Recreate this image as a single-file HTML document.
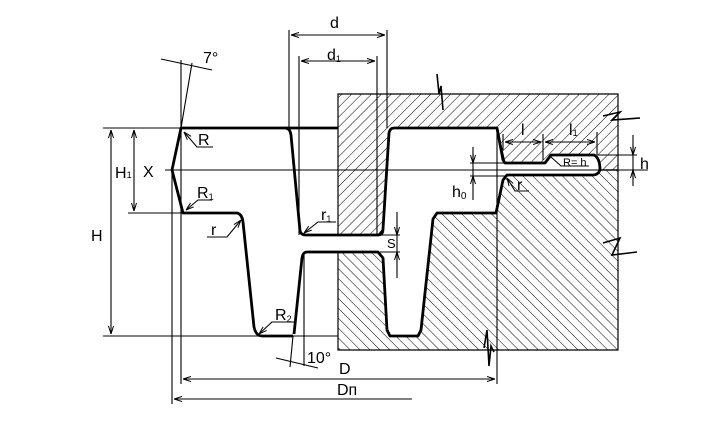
<!DOCTYPE html>
<html><head><style>html,body{margin:0;padding:0;background:#fff}svg{display:block}text{font-family:"Liberation Sans",sans-serif;fill:#000}</style></head>
<body>
<svg width="720" height="424" viewBox="0 0 720 424" xmlns="http://www.w3.org/2000/svg">
<defs>
<pattern id="hu" patternUnits="userSpaceOnUse" width="7" height="7" patternTransform="rotate(45)"><line x1="0" y1="0" x2="0" y2="7" stroke="#000" stroke-width="1"/></pattern>
<pattern id="hl" patternUnits="userSpaceOnUse" width="7" height="7" patternTransform="rotate(-45)"><line x1="0" y1="0" x2="0" y2="7" stroke="#000" stroke-width="1"/></pattern>
<marker id="a" markerWidth="8" markerHeight="6" refX="8" refY="3" orient="auto-start-reverse" markerUnits="userSpaceOnUse"><path d="M0,0.5 L8,3 L0,5.5" fill="none" stroke="#000" stroke-width="1"/></marker>
</defs>
<path d="M338,94 L618,94 L618,170 L600,170 Q600,160 595,155 L550,155 L545,163 L505,163 L497,128 L392,128 L389,133 L383,229 L378,235 L338,235 Z" fill="url(#hu)" stroke="#000" stroke-width="1.2"/>
<path d="M338,252 L378,252 L383,258 L387,330 L390,336 L418,336 L421,330 L433,219 L437,213 L496,213 L503,180 L507,175 L593,175 Q598,175 600,170 L618,170 L618,350 L338,350 Z" fill="url(#hl)" stroke="#000" stroke-width="1.2"/>
<g fill="none" stroke="#000" stroke-width="2.8" stroke-linejoin="round">
<path d="M338,128 L181,128 L172,170 L183,213 L237,213 Q242,214 243,222 L254,327 Q256,336 262,336 L293,336"/>
<path d="M285,128 Q290,128 291,135 L300,231 Q301,235 306,235 L378,235 Q383,235 383,229 L389,133 Q390,128 394,128 L497,128 L503,160 L505,163 L545,163 L551,155 L594,155 Q600,158 600,170 Q598,175 593,175 L507,175 L503,180 L496,213 L437,213 L433,219 L421,330 L418,336 L390,336 L387,330 L383,258 L378,252 L307,252 Q303,252 302,258 L294,334"/>
</g>
<g fill="none" stroke="#000" stroke-width="1.1">
<line x1="165" y1="170" x2="648" y2="170"/>
<line x1="103" y1="128" x2="181" y2="128"/>
<line x1="103" y1="336" x2="258" y2="336"/>
<line x1="293" y1="336" x2="338" y2="336"/>
<line x1="128" y1="213" x2="183" y2="213"/>
<line x1="111" y1="130" x2="111" y2="334" marker-start="url(#a)" marker-end="url(#a)"/>
<line x1="134" y1="130" x2="134" y2="211" marker-start="url(#a)" marker-end="url(#a)"/>
<line x1="172" y1="170" x2="172" y2="404"/>
<line x1="181" y1="60" x2="181" y2="384"/>
<line x1="181" y1="128" x2="192" y2="63"/>
<line x1="161" y1="59" x2="212" y2="70"/>
<line x1="289" y1="30" x2="289" y2="128"/>
<line x1="387" y1="30" x2="387" y2="128"/>
<line x1="291" y1="35" x2="385" y2="35" marker-start="url(#a)" marker-end="url(#a)"/>
<line x1="299" y1="56" x2="299" y2="235"/>
<line x1="377" y1="56" x2="377" y2="235"/>
<line x1="301" y1="61" x2="375" y2="61" marker-start="url(#a)" marker-end="url(#a)"/>
<line x1="497" y1="128" x2="497" y2="384"/>
<line x1="183" y1="379" x2="495" y2="379" marker-start="url(#a)" marker-end="url(#a)"/>
<line x1="174" y1="399" x2="412" y2="399" marker-start="url(#a)"/>
<line x1="304" y1="252" x2="304" y2="366"/>
<line x1="293" y1="336" x2="290" y2="367"/>
<line x1="276" y1="358" x2="318" y2="368"/>
<line x1="380" y1="235" x2="400" y2="235"/><line x1="380" y1="252" x2="400" y2="252"/>
<line x1="397" y1="212" x2="397" y2="278"/>
<line x1="397" y1="225" x2="397" y2="235" marker-end="url(#a)"/><line x1="397" y1="262" x2="397" y2="252" marker-end="url(#a)"/>
<line x1="470" y1="163" x2="505" y2="163"/><line x1="470" y1="176" x2="505" y2="176"/>
<line x1="473" y1="147" x2="473" y2="200"/>
<line x1="473" y1="153" x2="473" y2="163" marker-end="url(#a)"/><line x1="473" y1="186" x2="473" y2="176" marker-end="url(#a)"/>
<line x1="598" y1="155" x2="637" y2="155"/>
<line x1="633" y1="135" x2="633" y2="186"/>
<line x1="633" y1="145" x2="633" y2="155" marker-end="url(#a)"/><line x1="633" y1="180" x2="633" y2="170" marker-end="url(#a)"/>
<line x1="503" y1="134" x2="503" y2="150"/><line x1="543" y1="134" x2="543" y2="160"/><line x1="597" y1="132" x2="597" y2="155"/>
<line x1="505" y1="142" x2="541" y2="142" marker-start="url(#a)" marker-end="url(#a)"/>
<line x1="545" y1="142" x2="595" y2="142" marker-start="url(#a)" marker-end="url(#a)"/>
<path d="M213,147 L197,147 L184,132" marker-end="url(#a)"/>
<path d="M212,200 L198,200 L186,210" marker-end="url(#a)"/>
<path d="M207,237 L227,237 L241,220" marker-end="url(#a)"/>
<path d="M336,222 L318,222 L304,233" marker-end="url(#a)"/>
<path d="M296,322 L272,322 L259,334" marker-end="url(#a)"/>
<path d="M589,166 L561,166 L551,157"/>
<path d="M529,191 L515,191 L507,178" marker-end="url(#a)"/>
</g>
<g fill="none" stroke="#000" stroke-width="1.6" stroke-linejoin="miter">
<path d="M437,74 L439,94 L441,86 L443,110"/>
<path d="M603,116 L620,112 L612,120 L640,118"/>
<path d="M603,243 L620,238 L612,255 L637,252"/>
<path d="M484,348 L487,330 L489,366 L491,346 L494,352"/>
</g>
<g font-size="16">
<text x="330" y="28">d</text>
<text x="327" y="60">d<tspan font-size="9" dy="2">1</tspan></text>
<text x="203" y="63">7°</text>
<text x="198" y="145">R</text>
<text x="197" y="198">R<tspan font-size="9" dy="2">1</tspan></text>
<text x="143" y="177">X</text>
<text x="115" y="178">H<tspan font-size="9">1</tspan></text>
<text x="91" y="241">H</text>
<text x="211" y="235">r</text>
<text x="321" y="220">r<tspan font-size="9" dy="2">1</tspan></text>
<text x="275" y="320">R<tspan font-size="9" dy="2">2</tspan></text>
<text x="307" y="363">10°</text>
<text x="387" y="248" font-size="13">S</text>
<text x="339" y="374">D</text>
<text x="337" y="395">Dп</text>
<text x="452" y="197">h<tspan font-size="10" dy="2">0</tspan></text>
<text x="521" y="135">l</text>
<text x="569" y="135">l<tspan font-size="9" dy="1">1</tspan></text>
<text x="563" y="166" font-size="11">R= h</text>
<text x="640" y="169">h</text>
<text x="517" y="190">r</text>
</g>
</svg>
</body></html>
